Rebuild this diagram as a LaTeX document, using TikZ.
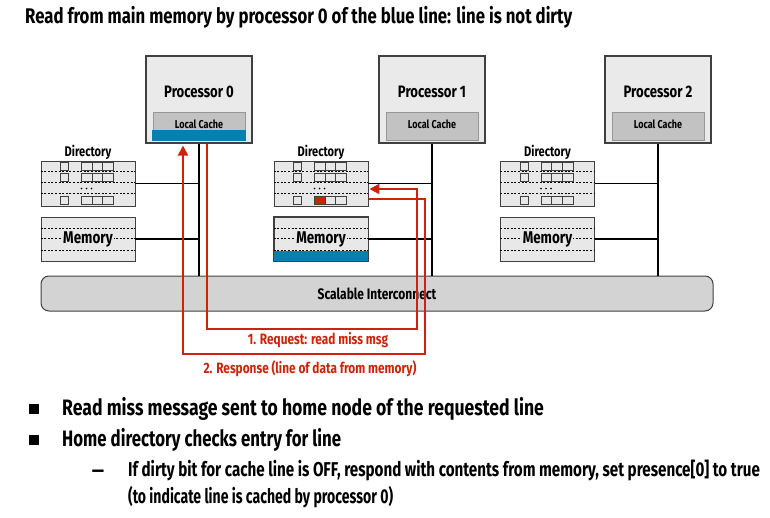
\documentclass[tikz,border=0pt]{standalone}
\usepackage{fontspec}
\setmainfont{Fira Sans}[FakeStretch=0.79]
\usetikzlibrary{arrows.meta,calc}

\definecolor{procfill}{RGB}{234,234,234}
\definecolor{cachefill}{RGB}{194,194,194}
\definecolor{cacheedge}{RGB}{150,150,150}
\definecolor{boxfill}{RGB}{232,232,232}
\definecolor{busfill}{RGB}{211,211,211}
\definecolor{edgegray}{RGB}{64,64,64}
\definecolor{lineblue}{RGB}{8,128,172}
\definecolor{msgred}{RGB}{204,36,10}

\newcommand{\fsz}[1]{\fontsize{#1}{#1}\selectfont}

\begin{document}
\begin{tikzpicture}[x=1pt,y=-1pt,font=\bfseries,
  proc/.style={draw=edgegray,line width=1.1pt,fill=procfill,minimum width=106pt,minimum height=87pt,inner sep=0pt},
  proclabel/.style={font=\bfseries\fsz{16.6}},
  cache/.style={draw=cacheedge,line width=0.9pt,fill=cachefill,minimum width=92pt,minimum height=28pt,inner sep=0pt},
  cachelabel/.style={font=\bfseries\fsz{11.4}},
  dirbox/.style={draw=edgegray,line width=0.9pt,fill=boxfill,minimum width=94pt,minimum height=45pt,inner sep=0pt},
  membox/.style={draw=edgegray,line width=0.9pt,fill=boxfill,minimum width=94pt,minimum height=44pt,inner sep=0pt},
  dirlabel/.style={font=\bfseries\fsz{14}},
  memlabel/.style={font=\bfseries\fsz{17},fill=boxfill,inner sep=1pt},
  rowline/.style={black,line width=0.6pt,dash pattern=on 2pt off 1.6pt},
  cell/.style={draw=edgegray,line width=0.8pt},
  bus/.style={draw=edgegray,line width=1pt,fill=busfill,rounded corners=8pt,minimum width=672pt,minimum height=35pt,font=\bfseries\fsz{15.2}},
  wire/.style={black,line width=1.4pt},
  msg/.style={draw=msgred,line width=2.2pt,-{Triangle[length=10pt,width=10pt]}},
  msglabel/.style={text=msgred,font=\bfseries\fsz{15}},
  bullet/.style={fill=black,minimum size=10pt,inner sep=0pt},
  body/.style={anchor=west,inner sep=0pt,font=\bfseries\fsz{22.3}},
  subbody/.style={anchor=west,inner sep=0pt,font=\bfseries\fsz{20}}]
\useasboundingbox (0,0) rectangle (770,517);

% title
\node[anchor=west,inner sep=0pt,font=\bfseries\fsz{21.2}] (title) at (25,17)
  {Read from main memory by processor 0 of the blue line: line is not dirty};

% processors with their local caches
\node[proc] (p0) at (199,99.5) {};
\node[proc] (p1) at (432,99.5) {};
\node[proc] (p2) at (658,99.5) {};
\node[proclabel] (p0t) at (199,92) {Processor 0};
\node[proclabel] (p1t) at (432,92) {Processor 1};
\node[proclabel] (p2t) at (658,92) {Processor 2};
\node[cache] (c0) at (199,126) {};
\node[cache] (c1) at (432,126) {};
\node[cache] (c2) at (658,126) {};
\fill[lineblue] ($(c0.south west)+(-1,0.5)$) rectangle ($(c0.east)+(1,4)$);
\node[cachelabel] (c0t) at (199,124) {Local Cache};
\node[cachelabel] (c1t) at (432,124) {Local Cache};
\node[cachelabel] (c2t) at (658,124) {Local Cache};

% directories and memories
\node[dirbox] (d0) at (88,183.5) {};
\node[dirbox] (d1) at (321,183.5) {};
\node[dirbox] (d2) at (547.5,183.5) {};
\node[dirlabel] (d0t) at (88,152) {Directory};
\node[dirlabel] (d1t) at (321,152) {Directory};
\node[dirlabel] (d2t) at (547.5,152) {Directory};
\foreach \d in {d0,d1,d2}{
  \begin{scope}[shift={(\d.north west)}]
    \foreach \y in {11,22,33} \draw[rowline] (0,\y) -- (94,\y);
    \foreach \y in {5.5,16.5,39.5}{
      \draw[cell] (20,\y-4) rectangle (28,\y+4);
      \draw[cell] (41,\y-4) rectangle (73,\y+4);
      \draw[cell] (51.7,\y-4) -- (51.7,\y+4);
      \draw[cell] (62.3,\y-4) -- (62.3,\y+4);
    }
    \foreach \x in {41,46,51} \fill (\x,28) circle (0.9);
  \end{scope}
}
% the entry of the requested line in the home directory
\begin{scope}[shift={(d1.north west)}]
  \filldraw[fill=msgred,draw=edgegray,line width=0.8pt] (41,35.5) rectangle (51.7,43.5);
\end{scope}

\node[membox] (m0) at (88,239) {};
\node[membox] (m1) at (321,239) {};
\node[membox] (m2) at (547.5,239) {};
\foreach \m in {m0,m1,m2}{
  \begin{scope}[shift={(\m.north west)}]
    \foreach \y in {11.5,22,33.5} \draw[rowline] (0,\y) -- (94,\y);
  \end{scope}
}
\fill[lineblue] ($(m1.south west)+(0,-10.5)$) rectangle (m1.south east);
\draw[edgegray,line width=0.9pt] (m1.north west) rectangle (m1.south east);
\node[memlabel] (m0t) at (m0.center) {Memory};
\node[memlabel] (m1t) at (m1.center) {Memory};
\node[memlabel] (m2t) at (m2.center) {Memory};

% interconnect
\node[bus] (bus) at (377,293.5) {Scalable Interconnect};

% wiring to the interconnect
\foreach \p/\d/\m in {p0/d0/m0,p1/d1/m1,p2/d2/m2}{
  \draw[wire] (\p.south) -- (\p.south |- bus.north);
  \draw[wire] (\d.east) -- ($(\d.east -| \p.south)+(1,0)$);
  \draw[wire] (\m.east) -- ($(\m.east -| \p.south)+(1,0)$);
}

% messages
\draw[msg] ($(p0.south)+(8,0)$) |- (417,329) |- ($(d1.east)+(1,5.5)$);
\draw[msg] ($(d1.east)+(1,15.5)$) -| (425,354) -| ($(p0.south)+(-16,2)$);
\node[msglabel] (l1) at (318,340) {1. Request: read miss msg};
\node[msglabel] (l2) at (310,369) {2. Response (line of data from memory)};

% bullet list
\node[bullet] (k1) at (34,409) {};
\node[body] (t1) at (62,409) {Read miss message sent to home node of the requested line};
\node[bullet] (k2) at (34,440) {};
\node[body] (t2) at (62,440) {\scalebox{0.955}[1]{Home directory checks entry for line}};
\node[anchor=center,font=\bfseries\fsz{20}] (k3) at (98,474) {\scalebox{1.5}[1]{–}};
\node[subbody] (t3) at (128,470) {\scalebox{0.96}[1]{If dirty bit for cache line is OFF, respond with contents from memory, set presence[0] to true}};
\node[subbody] (t4) at (128,497) {\scalebox{0.89}[1]{(to indicate line is cached by processor 0)}};
\end{tikzpicture}
\end{document}
